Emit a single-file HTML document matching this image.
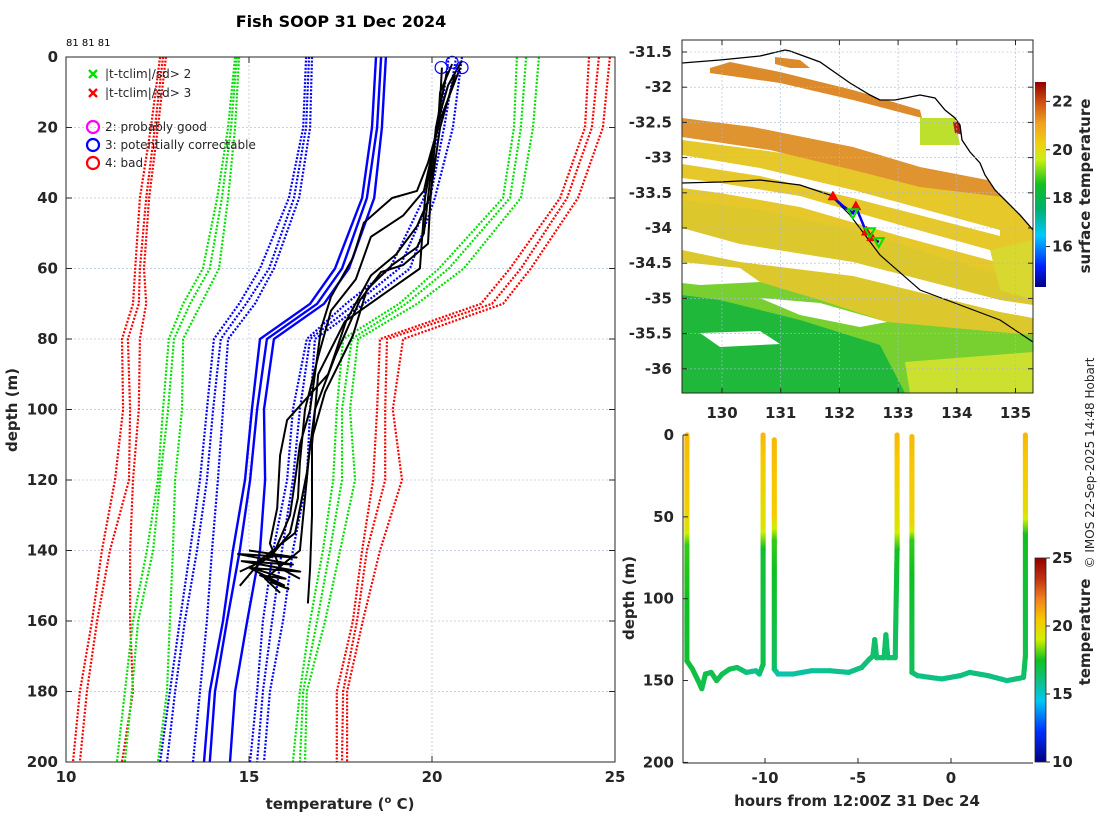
<!DOCTYPE html>
<html><head><meta charset="utf-8"><title>Fish SOOP 31 Dec 2024</title>
<style>
html,body{margin:0;padding:0;background:#fff;}
svg{display:block;font-family:"DejaVu Sans","Liberation Sans",sans-serif;}
.tk{font-size:15px;font-weight:bold;fill:#262626;}
.lg{font-size:12px;fill:#262626;}
</style></head>
<body>
<svg id="fig" width="1100" height="820" viewBox="0 0 1100 820" xmlns="http://www.w3.org/2000/svg">
<defs>
<clipPath id="clipL"><rect x="66" y="57" width="549" height="705"/></clipPath>
<clipPath id="clipM"><rect x="682" y="40" width="351" height="353"/></clipPath>
<linearGradient id="cbMap" x1="0" y1="1" x2="0" y2="0">
 <stop offset="0" stop-color="#000080"/><stop offset="0.1" stop-color="#0020ff"/>
 <stop offset="0.25" stop-color="#00c8ff"/><stop offset="0.38" stop-color="#00b070"/>
 <stop offset="0.5" stop-color="#10c020"/><stop offset="0.62" stop-color="#c8f010"/>
 <stop offset="0.7" stop-color="#f0d010"/><stop offset="0.8" stop-color="#f0a020"/>
 <stop offset="0.9" stop-color="#d05010"/><stop offset="1" stop-color="#900000"/>
</linearGradient>
<linearGradient id="cbT" x1="0" y1="1" x2="0" y2="0">
 <stop offset="0" stop-color="#000080"/><stop offset="0.15" stop-color="#0030ff"/>
 <stop offset="0.3" stop-color="#00c8f0"/><stop offset="0.4" stop-color="#10c080"/>
 <stop offset="0.5" stop-color="#10c020"/><stop offset="0.6" stop-color="#d0f000"/>
 <stop offset="0.7" stop-color="#f8c800"/><stop offset="0.8" stop-color="#f08020"/>
 <stop offset="0.9" stop-color="#c03010"/><stop offset="1" stop-color="#900000"/>
</linearGradient>
</defs>

<text x="341" y="27" text-anchor="middle" font-size="16" font-weight="bold" fill="#000">Fish SOOP 31 Dec 2024</text>
<text x="66" y="46" font-size="10" fill="#000">81 81 81</text>

<g id="left"></g>
<g id="map"></g>
<g id="ts"></g>

<text transform="translate(1094,463) rotate(-90)" text-anchor="middle" font-size="12" fill="#262626">© IMOS 22-Sep-2025 14:48 Hobart</text>
</svg>
<script>
// ---------- LEFT PLOT DATA ----------
const climDepths = [0,20,40,60,70,80,100,120,140,160,180,200];
const redLeft = [
 [12.57,12.32,12.02,11.89,11.83,11.53,11.56,11.34,10.98,10.71,10.38,10.19],
 [12.65,12.43,12.19,12.02,11.99,11.69,11.75,11.72,11.20,10.85,10.57,10.38],
 [12.73,12.51,12.27,12.13,12.19,12.02,11.99,11.83,11.75,11.75,11.83,11.53]];
const greenLeft = [
 [14.62,14.43,14.13,13.74,13.20,12.81,12.65,12.51,12.21,11.83,11.61,11.39],
 [14.67,14.51,14.26,13.93,13.39,12.95,12.79,12.57,12.38,11.97,11.80,11.61],
 [14.73,14.62,14.43,14.18,13.69,13.20,13.17,12.98,12.92,12.84,12.76,12.51]];
const blueDotLeft = [
 [16.56,16.48,16.09,15.30,14.73,14.04,13.85,13.66,13.39,13.11,12.84,12.57],
 [16.64,16.56,16.23,15.55,14.92,14.23,14.02,13.85,13.58,13.25,12.98,12.76],
 [16.72,16.67,16.37,15.68,15.16,14.43,14.29,14.15,13.99,13.85,13.66,13.47]];
const blueMean = [
 [18.47,18.36,18.09,17.35,16.67,15.30,15.08,14.89,14.56,14.29,13.93,13.77],
 [18.61,18.50,18.22,17.54,16.86,15.49,15.22,15.03,14.75,14.40,14.07,13.93],
 [18.74,18.63,18.42,17.73,17.05,15.68,15.41,15.44,15.30,14.95,14.62,14.48]];
const blueDotRight = [
 [20.46,20.19,19.78,18.85,17.65,16.58,16.20,16.04,15.66,15.38,15.22,15.03],
 [20.66,20.33,19.95,19.10,17.90,16.67,16.39,16.20,15.90,15.63,15.38,15.22],
 [20.82,20.57,20.08,19.40,18.14,16.80,16.67,16.58,16.20,15.93,15.57,15.41]];
const greenRight = [
 [22.32,22.24,21.94,20.19,19.10,17.57,17.40,17.30,17.02,16.67,16.39,16.20],
 [22.57,22.43,22.13,20.46,19.29,17.81,17.54,17.54,17.21,16.86,16.48,16.39],
 [22.92,22.76,22.43,20.87,19.59,17.98,17.76,17.90,17.49,17.08,16.58,16.53]];
const redRight = [
 [24.29,24.18,23.50,22.13,21.34,18.58,18.50,18.39,18.09,17.84,17.40,17.40],
 [24.56,24.37,23.69,22.43,21.64,18.77,18.72,18.72,18.22,17.95,17.57,17.54],
 [24.86,24.67,23.99,22.70,21.94,19.21,18.93,19.18,18.58,18.11,17.68,17.68]];
const prof1D = [3,19,30,38,40,47,57,68,77,90,100,110,120,130,140,145,150];
const prof1T = [20.27,20.19,19.89,19.59,18.91,18.14,17.84,17.24,16.97,16.80,16.67,16.39,16.26,16.12,15.71,15.16,14.75];
const prof2D = [2,10,20,38,45,51,63,72,85,100,115,125,135,142,146];
const prof2T = [20.55,20.22,20.16,19.78,19.21,18.33,17.92,17.24,16.89,16.53,16.39,16.34,16.12,15.57,14.75];
const prof3D = [1,8,20,39,48,56,62,75,90,103,113,128,138,145,148];
const prof3T = [20.82,20.44,20.11,19.97,19.59,19.02,18.33,17.65,17.16,16.04,15.85,15.77,15.57,15.85,16.39];
const prof4D = [4,20,40,50,54,59,66,79,95,110,125,140,148,152];
const prof4T = [20.41,20.11,19.89,19.78,19.59,18.91,18.22,17.84,17.08,16.67,16.53,16.39,15.44,15.85];
const prof5D = [5,20,38,53,59,61,69,85,100,118,135,145,150];
const prof5T = [20.63,20.22,19.97,19.89,19.21,18.61,18.03,17.35,16.80,16.58,16.26,15.03,15.98];
const prof6D = [3,20,40,60,75,90,110,130,145,155];
const prof6T = [20.77,20.14,19.81,19.67,17.62,16.89,16.72,16.72,16.67,16.61];
const prof7D = [140,142,141,144,143,146,145,148,147,150,149,151];
const prof7T = [15.0,16.3,14.7,16.2,14.8,16.4,15.1,16.0,15.3,15.9,15.6,16.1];
const flagD = [3,1.5,3];
const flagT = [20.25,20.55,20.82];
const tTicks = [10,15,20,25];
const dTicks = [0,20,40,60,80,100,120,140,160,180,200];

// ---------- MAP DATA ----------
const lonTicks = [130,131,132,133,134,135];
const latTicks = [-31.5,-32,-32.5,-33,-33.5,-34,-34.5,-35,-35.5,-36];
const sstTicks = [16,18,20,22];
const trackLon = [131.89,132.05,132.23,132.28,132.46,132.55,132.67];
const trackLat = [-33.56,-33.68,-33.79,-33.70,-34.06,-34.14,-34.20];
const redTriLon = [131.89,132.28,132.46,132.55];
const redTriLat = [-33.56,-33.70,-34.06,-34.14];
const greenTriLon = [132.23,132.52,132.67];
const greenTriLat = [-33.79,-34.06,-34.20];

// ---------- TIME-DEPTH DATA ----------
const trkHours = [-14.2,-14.2,-14.2,-14.2,-14.2,-13.9,-13.6,-13.4,-13.2,-12.9,-12.6,-12.3,-11.9,-11.5,-11.0,-10.5,-10.3,-10.1,-10.1,-10.1,-10.1,null,
 -9.5,-9.5,-9.5,-9.5,-9.3,-8.5,-7.5,-6.5,-5.5,-4.8,-4.4,-4.2,-4.1,-4.0,-3.6,-3.5,-3.4,-3.0,-2.9,-2.9,-2.9,null,
 -2.1,-2.1,-2.1,-2.1,-1.8,-0.5,0.5,1.0,2.0,3.0,3.5,3.9,4.0,4.0,4.0,4.0];
const trkDepths = [0,45,58,68,138,143,150,155,146,145,150,146,143,142,145,144,146,140,70,55,0,null,
 3,50,65,143,146,146,144,144,145,142,137,135,125,136,136,122,136,136,70,55,0,null,
 1,55,65,145,147,149,147,145,147,150,149,148,135,60,45,0];
const trkTemps = [20.8,20.3,19.5,17.8,17.2,17.0,16.9,16.8,16.9,16.8,16.8,16.7,16.7,16.6,16.2,15.7,16.0,16.8,17.2,19.5,20.8,null,
 20.8,20.3,17.8,16.5,15.3,15.5,15.6,15.8,15.8,16.0,16.2,16.3,16.4,16.3,16.3,16.4,16.3,16.3,17.4,19.5,20.8,null,
 20.8,20.0,17.8,16.6,16.0,15.9,16.0,16.1,16.0,15.9,16.1,16.3,16.8,17.5,19.8,20.8];
const hourTicks = [-10,-5,0];
const tsDepthTicks = [0,50,100,150,200];
const tempTicks = [10,15,20,25];

// ---------- helpers ----------
const NS = "http://www.w3.org/2000/svg";
function mk(parent, tag, attrs, text){
  const e = document.createElementNS(NS, tag);
  for (const k in attrs) e.setAttribute(k, attrs[k]);
  if (text !== undefined) e.textContent = text;
  parent.appendChild(e);
  return e;
}
const xT = t => 66 + (t - 10) * 36.6;
const yD = d => 57 + d * 3.525;

// ---------- LEFT PLOT ----------
const L = document.getElementById('left');
tTicks.forEach(t => {
  const g = mk(L,'line',{x1:xT(t),x2:xT(t),y1:57,y2:762,stroke:'#b8c4dc','stroke-width':0.8,'stroke-dasharray':'2,2'});
  
  
});
dTicks.forEach(d => {
  const g = mk(L,'line',{x1:66,x2:615,y1:yD(d),y2:yD(d),stroke:'#b8c4dc','stroke-width':0.8,'stroke-dasharray':'2,2'});
  
  
});
const LC = mk(L,'g',{'clip-path':'url(#clipL)'});
function climLine(arr, color, dashed, name){
  arr.forEach(vals => {
    const pts = vals.map((t,i) => xT(t).toFixed(1)+','+yD(climDepths[i]).toFixed(1)).join(' ');
    const p = mk(LC,'polyline',{points:pts,fill:'none',stroke:color,'stroke-width':dashed?2.2:2.4,'stroke-dasharray':dashed?'2,1.6':'none'});
    
    
  });
}
climLine(redLeft,'#ff0000',true,'clim-minus-3sd-line');
climLine(greenLeft,'#00e000',true,'clim-minus-2sd-line');
climLine(blueDotLeft,'#0000ff',true,'clim-minus-1sd-line');
climLine(blueMean,'#0000ff',false,'clim-mean-line');
climLine(blueDotRight,'#0000ff',true,'clim-plus-1sd-line');
climLine(greenRight,'#00e000',true,'clim-plus-2sd-line');
climLine(redRight,'#ff0000',true,'clim-plus-3sd-line');
[[prof1D,prof1T],[prof2D,prof2T],[prof3D,prof3T],[prof4D,prof4T],[prof5D,prof5T],[prof6D,prof6T],[prof7D,prof7T]].forEach(([D,T]) => {
  const pts = T.map((t,i) => xT(t).toFixed(1)+','+yD(D[i]).toFixed(1)).join(' ');
  const p = mk(LC,'polyline',{points:pts,fill:'none',stroke:'#000','stroke-width':2,'stroke-linejoin':'round'});
  
  
});
flagT.forEach((t,i) => {
  const c = mk(L,'circle',{cx:xT(t),cy:yD(flagD[i]),r:6,fill:'none',stroke:'#0000ff','stroke-width':1.2});
  
  
});
const fr = mk(L,'rect',{x:66,y:57,width:549,height:705,fill:'none',stroke:'#262626','stroke-width':1});


tTicks.forEach(t => {
  mk(L,'line',{x1:xT(t),x2:xT(t),y1:762,y2:756,stroke:'#262626'});
  mk(L,'line',{x1:xT(t),x2:xT(t),y1:57,y2:63,stroke:'#262626'});
  const l = mk(L,'text',{x:xT(t),y:782,'text-anchor':'middle',class:'tk'},String(t));
  
  
});
dTicks.forEach(d => {
  mk(L,'line',{x1:66,x2:72,y1:yD(d),y2:yD(d),stroke:'#262626'});
  mk(L,'line',{x1:615,x2:609,y1:yD(d),y2:yD(d),stroke:'#262626'});
  const l = mk(L,'text',{x:58,y:yD(d)+5,'text-anchor':'end',class:'tk'},String(d));
  
  
});
const xl = mk(L,'text',{x:340,y:809,'text-anchor':'middle',class:'tk'});
xl.innerHTML = 'temperature (<tspan font-size="10" dy="-6">o</tspan><tspan dy="6"> C)</tspan>';


const yl = mk(L,'text',{transform:'translate(17,410) rotate(-90)','text-anchor':'middle',class:'tk'},'depth (m)');


const LG = mk(L,'g',{});


function xmark(x,y,c){ mk(LG,'path',{d:`M${x-4},${y-4}L${x+4},${y+4}M${x-4},${y+4}L${x+4},${y-4}`,stroke:c,'stroke-width':2.4}); }
xmark(93,74,'#00e000'); xmark(93,93,'#ff0000');
[['|t-tclim|/sd> 2',78],['|t-tclim|/sd> 3',97]].forEach(([s,y]) => {
  const t = mk(LG,'text',{x:105,y:y,class:'lg'},s);
  
  
});
[['#ff00ff','2: probably good',127],['#0000ff','3: potentially correctable',145],['#ff0000','4: bad',163]].forEach(([c,s,y]) => {
  mk(LG,'circle',{cx:93,cy:y,r:6,fill:'none',stroke:c,'stroke-width':2.2});
  const t = mk(LG,'text',{x:105,y:y+4,class:'lg'},s);
  
  
});

// ---------- MAP ----------
const M = document.getElementById('map');
const xLon = lon => 722 + (lon - 130) * 58.7;
const yLat = lat => 52 + (-31.5 - lat) * 70.4;
const MC = mk(M,'g',{'clip-path':'url(#clipM)'});
mk(MC,'rect',{x:682,y:40,width:351,height:353,fill:'#fff'});
function poly(pts,fill,name){
  const p = mk(MC,'polygon',{points:pts,fill:fill});
  
  
}
poly('682,140 760,150 853,163 1003,187 1033,203 1033,330 682,330','#e6c82a','sst-yellow-area');
poly('682,200 760,210 853,230 1000,275 1033,285 1033,335 682,335','#dcc82c','sst-yellow-area');
poly('682,118 753,127 853,147 920,167 1003,183 1003,197 920,187 853,170 770,150 682,137','#e09430','sst-orange-band');
poly('710,68 730,62 780,72 853,90 920,110 922,118 853,100 780,83 710,73','#dc8a2a','sst-orange-band');
poly('775,57 800,60 810,68 790,68 775,64','#dc8a2a','sst-orange-patch');
poly('682,155 760,168 853,190 1000,230 1000,236 853,198 760,176 682,164','#ffffff','sst-gap');
poly('682,178 720,183 800,196 900,225 1033,262 1033,272 900,236 800,207 720,193 682,188','#ffffff','sst-gap');
poly('682,228 740,244 853,262 1000,300 1033,305 1033,318 1000,312 853,276 740,262 682,250','#ffffff','sst-gap');
poly('682,270 753,280 820,300 887,322 1033,335 1033,393 682,393','#78d030','sst-green-area');
poly('682,295 720,300 800,320 880,345 905,393 682,393','#20b83a','sst-green-area');
poly('905,362 1033,352 1033,393 910,393','#cce030','sst-yellowgreen-area');
poly('682,262 740,268 760,282 700,285 682,283','#ffffff','sst-gap');
poly('760,298 820,303 887,322 860,327 800,315','#ffffff','sst-gap');
poly('700,333 760,331 780,344 720,347','#ffffff','sst-gap');
poly('920,118 955,118 960,145 920,145','#bce02c','sst-yellowgreen-patch');
poly('953,122 968,120 973,137 955,133','#b02010','sst-warm-patch');
poly('990,250 1033,240 1033,300 1000,290','#d8d830','sst-yellow-area');
poly('682,40 1033,40 1033,230 1020,215 1005,200 995,190 985,175 980,163 970,152 962,140 960,125 955,118 945,110 935,98 920,95 905,98 895,100 880,100 870,95 850,83 820,62 790,51 785,50 760,56 720,60 682,63','#ffffff','land');
const coast = mk(MC,'polyline',{points:'682,63 720,60 760,56 785,50 790,51 820,62 850,83 870,95 880,100 895,100 905,98 920,95 935,98 945,110 955,118 960,125 962,140 970,152 980,163 985,175 995,190 1005,200 1020,215 1033,230',fill:'none',stroke:'#000','stroke-width':1.3});


const iso = mk(MC,'polyline',{points:'682,183 720,182 760,180 800,185 830,195 850,215 880,255 920,290 960,305 1000,320 1033,342',fill:'none',stroke:'#000','stroke-width':1.2});


lonTicks.forEach(l => {
  const g = mk(M,'line',{x1:xLon(l),x2:xLon(l),y1:40,y2:393,stroke:'#aab8dc','stroke-width':0.6,'stroke-dasharray':'2,2'});
  
  
});
latTicks.forEach(l => {
  const g = mk(M,'line',{x1:682,x2:1033,y1:yLat(l),y2:yLat(l),stroke:'#aab8dc','stroke-width':0.6,'stroke-dasharray':'2,2'});
  
  
});
const tr = mk(M,'polyline',{points:trackLon.map((l,i)=>xLon(l)+','+yLat(trackLat[i])).join(' '),fill:'none',stroke:'#0000ff','stroke-width':2.5});


redTriLon.forEach((l,i) => {
  const x = xLon(l), y = yLat(redTriLat[i]);
  const t = mk(M,'polygon',{points:`${x},${y-6} ${x-5},${y+3} ${x+5},${y+3}`,fill:'#ff0000',stroke:'#c00','stroke-width':0.5});
  
  
});
greenTriLon.forEach((l,i) => {
  const x = xLon(l), y = yLat(greenTriLat[i]);
  const t = mk(M,'polygon',{points:`${x-5},${y-4} ${x+5},${y-4} ${x},${y+5}`,fill:'none',stroke:'#00e000','stroke-width':2});
  
  
});
const mf = mk(M,'rect',{x:682,y:40,width:351,height:353,fill:'none',stroke:'#262626','stroke-width':1});


lonTicks.forEach(l => {
  mk(M,'line',{x1:xLon(l),x2:xLon(l),y1:393,y2:388,stroke:'#262626'});
  mk(M,'line',{x1:xLon(l),x2:xLon(l),y1:40,y2:45,stroke:'#262626'});
  const t = mk(M,'text',{x:xLon(l),y:418,'text-anchor':'middle',class:'tk'},String(l));
  
  
});
latTicks.forEach(l => {
  mk(M,'line',{x1:682,x2:687,y1:yLat(l),y2:yLat(l),stroke:'#262626'});
  mk(M,'line',{x1:1033,x2:1028,y1:yLat(l),y2:yLat(l),stroke:'#262626'});
  const t = mk(M,'text',{x:672,y:yLat(l)+5,'text-anchor':'end',class:'tk'},String(l));
  
  
});
const ySst = v => 82 + (22.8 - v) * 24.2;
const cb1 = mk(M,'rect',{x:1035,y:82,width:11,height:205,fill:'url(#cbMap)'});


sstTicks.forEach(v => {
  mk(M,'line',{x1:1046,x2:1050,y1:ySst(v),y2:ySst(v),stroke:'#262626'});
  const t = mk(M,'text',{x:1052,y:ySst(v)+5,class:'tk'},String(v));
  
  
});
const cbt = mk(M,'text',{transform:'translate(1090,186) rotate(-90)','text-anchor':'middle',class:'tk'},'surface temperature');



// ---------- TIME-DEPTH PLOT ----------
const S = document.getElementById('ts');
const xH = h => 951 + h * 18.6;
const yTs = d => 435 + d * 1.637;
const stops = [[10,[0,0,128]],[12.2,[0,48,255]],[14.5,[0,200,240]],[16,[16,192,128]],[17.5,[16,192,32]],[19,[208,240,0]],[20.5,[248,200,0]],[22,[240,128,32]],[23.5,[192,48,16]],[25,[144,0,0]]];
function cmap(t){
  if (t<=stops[0][0]) return 'rgb('+stops[0][1]+')';
  for (let i=1;i<stops.length;i++){
    if (t<=stops[i][0]){
      const a=stops[i-1],b=stops[i],f=(t-a[0])/(b[0]-a[0]);
      return 'rgb('+a[1].map((v,k)=>Math.round(v+(b[1][k]-v)*f)).join(',')+')';
    }
  }
  return 'rgb('+stops[stops.length-1][1]+')';
}
const TG = mk(S,'g',{});


for (let i=0;i<trkHours.length-1;i++){
  if (trkHours[i]===null || trkHours[i+1]===null) continue;
  const x0=xH(trkHours[i]),y0=yTs(trkDepths[i]),x1=xH(trkHours[i+1]),y1=yTs(trkDepths[i+1]);
  const n=Math.max(1,Math.ceil(Math.hypot(x1-x0,y1-y0)/1.5));
  for (let k=0;k<=n;k++){
    const f=k/n;
    const c = mk(TG,'circle',{cx:(x0+(x1-x0)*f).toFixed(1),cy:(y0+(y1-y0)*f).toFixed(1),r:2.6,fill:cmap(trkTemps[i]+(trkTemps[i+1]-trkTemps[i])*f)});
    
    
  }
}
mk(S,'line',{x1:683,x2:683,y1:435,y2:763,stroke:'#262626'});
mk(S,'line',{x1:683,x2:1033,y1:763,y2:763,stroke:'#262626'});
hourTicks.forEach(h => {
  mk(S,'line',{x1:xH(h),x2:xH(h),y1:763,y2:758,stroke:'#262626'});
  const t = mk(S,'text',{x:xH(h),y:783,'text-anchor':'middle',class:'tk'},String(h));
  
  
});
tsDepthTicks.forEach(d => {
  mk(S,'line',{x1:683,x2:688,y1:yTs(d),y2:yTs(d),stroke:'#262626'});
  const t = mk(S,'text',{x:674,y:yTs(d)+5,'text-anchor':'end',class:'tk'},String(d));
  
  
});
const tx = mk(S,'text',{x:857,y:806,'text-anchor':'middle',class:'tk'},'hours from 12:00Z 31 Dec 24');


const ty = mk(S,'text',{transform:'translate(634,598) rotate(-90)','text-anchor':'middle',class:'tk'},'depth (m)');


const yCb = v => 762 - (v - 10) * 13.6;
const cb2 = mk(S,'rect',{x:1035,y:558,width:11,height:204,fill:'url(#cbT)'});


mk(S,'rect',{x:1035,y:558,width:11,height:204,fill:'none',stroke:'#262626','stroke-width':0.8});
tempTicks.forEach(v => {
  mk(S,'line',{x1:1046,x2:1050,y1:yCb(v),y2:yCb(v),stroke:'#262626'});
  const t = mk(S,'text',{x:1052,y:yCb(v)+5,class:'tk'},String(v));
  
  
});
const ct = mk(S,'text',{transform:'translate(1090,632) rotate(-90)','text-anchor':'middle',class:'tk'},'temperature');


</script>
</body></html>
